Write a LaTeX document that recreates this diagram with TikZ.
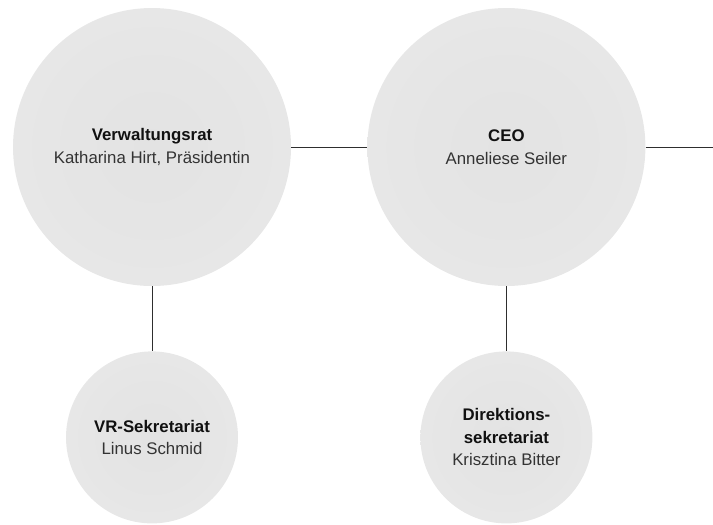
\documentclass[tikz,border=0pt]{standalone}
\usepackage{fontspec}
\setmainfont{Liberation Sans}
\usetikzlibrary{positioning}
\definecolor{kreisinnen}{HTML}{E3E3E3}
\definecolor{kreisaussen}{HTML}{EFEFEF}
\definecolor{linie}{HTML}{2E2E2E}
\definecolor{titel}{HTML}{111111}
\definecolor{person}{HTML}{333333}
\pgfdeclareradialshading{kreis}{\pgfpoint{0bp}{0bp}}{%
    color(0bp)=(kreisinnen); color(20bp)=(kreisinnen!75!kreisaussen);
    color(50bp)=(kreisaussen)}
\tikzset{
    gremium/.style={ % Grundform fuer jede Stelle
        circle,
        inner sep=0pt,
        align=center,
        shading=kreis,
        text=person,
        font=\fontsize{16.8}{22.5}\selectfont
    },
    gross/.style={gremium, minimum size=278pt}, % obere Reihe
    klein/.style={gremium, minimum size=172pt}, % untere Reihe
    verbindung/.style={ % Linien zwischen den Stellen
        draw=linie,
        line width=0.8pt
    }
}
\newcommand{\stelle}[1]{{\color{titel}\textbf{#1}}}

\begin{document}
\begin{tikzpicture}[x=1pt, y=-1pt]
        \useasboundingbox (0,0) rectangle (713,525);
        % obere reihe
        \node[gross]                        (vr)     at (152,147)
            {\stelle{Verwaltungsrat}\\Katharina Hirt, Präsidentin};
        \node[gross, right=76pt of vr]      (ceo)
            {\stelle{CEO}\\Anneliese Seiler};
        \coordinate                         (rand)   at (713,147);
        % untere reihe
        \node[klein, below=65pt of vr]      (vrsek)
            {\stelle{VR-Sekretariat}\\Linus Schmid};
        \node[klein, below=65pt of ceo]     (dirsek)
            {\stelle{Direktions-}\\\stelle{sekretariat}\\Krisztina Bitter};

        \draw[verbindung]
                (vr)    -- (ceo)
                (ceo)   -- (rand)
                (vr)    -- (vrsek)
                (ceo)   -- (dirsek)
        ;
\end{tikzpicture}
\end{document}
